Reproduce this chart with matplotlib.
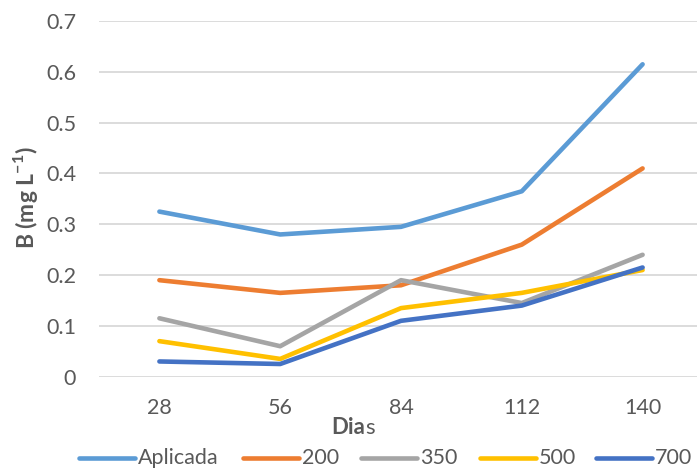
import matplotlib
matplotlib.use("Agg")
import matplotlib.pyplot as plt
from matplotlib.lines import Line2D

plt.rcParams["font.family"] = ["Lato", "DejaVu Sans"]
plt.rcParams["mathtext.fontset"] = "custom"
plt.rcParams["mathtext.rm"] = "Lato"
plt.rcParams["mathtext.bf"] = "Lato:bold"

# ── Data ───────────────────────────────────────────────────────────────────────
dias = ["28", "56", "84", "112", "140"]
aplicada = [0.325, 0.28, 0.295, 0.365, 0.615]
d200 = [0.19, 0.165, 0.18, 0.26, 0.41]
d350 = [0.115, 0.06, 0.19, 0.145, 0.24]
d500 = [0.07, 0.035, 0.135, 0.165, 0.21]
d700 = [0.03, 0.025, 0.11, 0.14, 0.215]

series = [
    ("Aplicada", aplicada, "#5B9BD5"),
    ("200", d200, "#ED7D31"),
    ("350", d350, "#A5A5A5"),
    ("500", d500, "#FFC000"),
    ("700", d700, "#4472C4"),
]

TXT = "#595959"
FS = 15.5
W, H = 697, 468

fig = plt.figure(figsize=(6.97, 4.68), dpi=100)
ax = fig.add_axes([99 / W, 91.3 / H, 604 / W, 355.6 / H])

x = range(len(dias))
for name, vals, col in series:
    ax.plot(x, vals, color=col, lw=3.3, solid_capstyle="round",
            solid_joinstyle="round", label=name, zorder=3)

ax.set_xlim(-0.5, len(dias) - 0.5)
ax.set_ylim(0, 0.7)
ax.set_yticks([0, 0.1, 0.2, 0.3, 0.4, 0.5, 0.6, 0.7])
ax.set_yticklabels(["0", "0.1", "0.2", "0.3", "0.4", "0.5", "0.6", "0.7"])
ax.set_xticks(list(x))
ax.set_xticklabels(dias)
ax.grid(axis="y", color="#D9D9D9", lw=1.3, zorder=0)
ax.tick_params(length=0, labelsize=FS, labelcolor=TXT)
ax.tick_params(axis="y", pad=16.5)
ax.tick_params(axis="x", pad=15)
for s in ax.spines.values():
    s.set_visible(False)

# y label with superscript
fig.text(25 / W, 1 - 198 / H, r"B (mg L$^{\mathbf{-1}}$)", rotation=90,
         ha="center", va="center", fontsize=16.5, fontweight="bold", color=TXT)

# x label: "Dia" bold + "s" regular
fig.text(365 / W, 1 - 428 / H, "Dia", ha="right", va="center",
         fontsize=FS + 0.5, fontweight="bold", color=TXT)
fig.text(365 / W, 1 - 428 / H, "s", ha="left", va="center",
         fontsize=FS + 0.5, color=TXT)

# legend row along the bottom: short line sample followed by its name
leg_x = [79, 243, 361, 480, 596]
leg_y = 1 - 458 / H
for (name, _, col), lx in zip(series, leg_x):
    fig.add_artist(Line2D([lx / W, (lx + 56) / W], [leg_y, leg_y], color=col,
                          lw=3.3, solid_capstyle="round"))
    fig.text((lx + 59) / W, leg_y, name, ha="left", va="center",
             fontsize=FS, color=TXT)

fig.savefig("out.png", dpi=100)
